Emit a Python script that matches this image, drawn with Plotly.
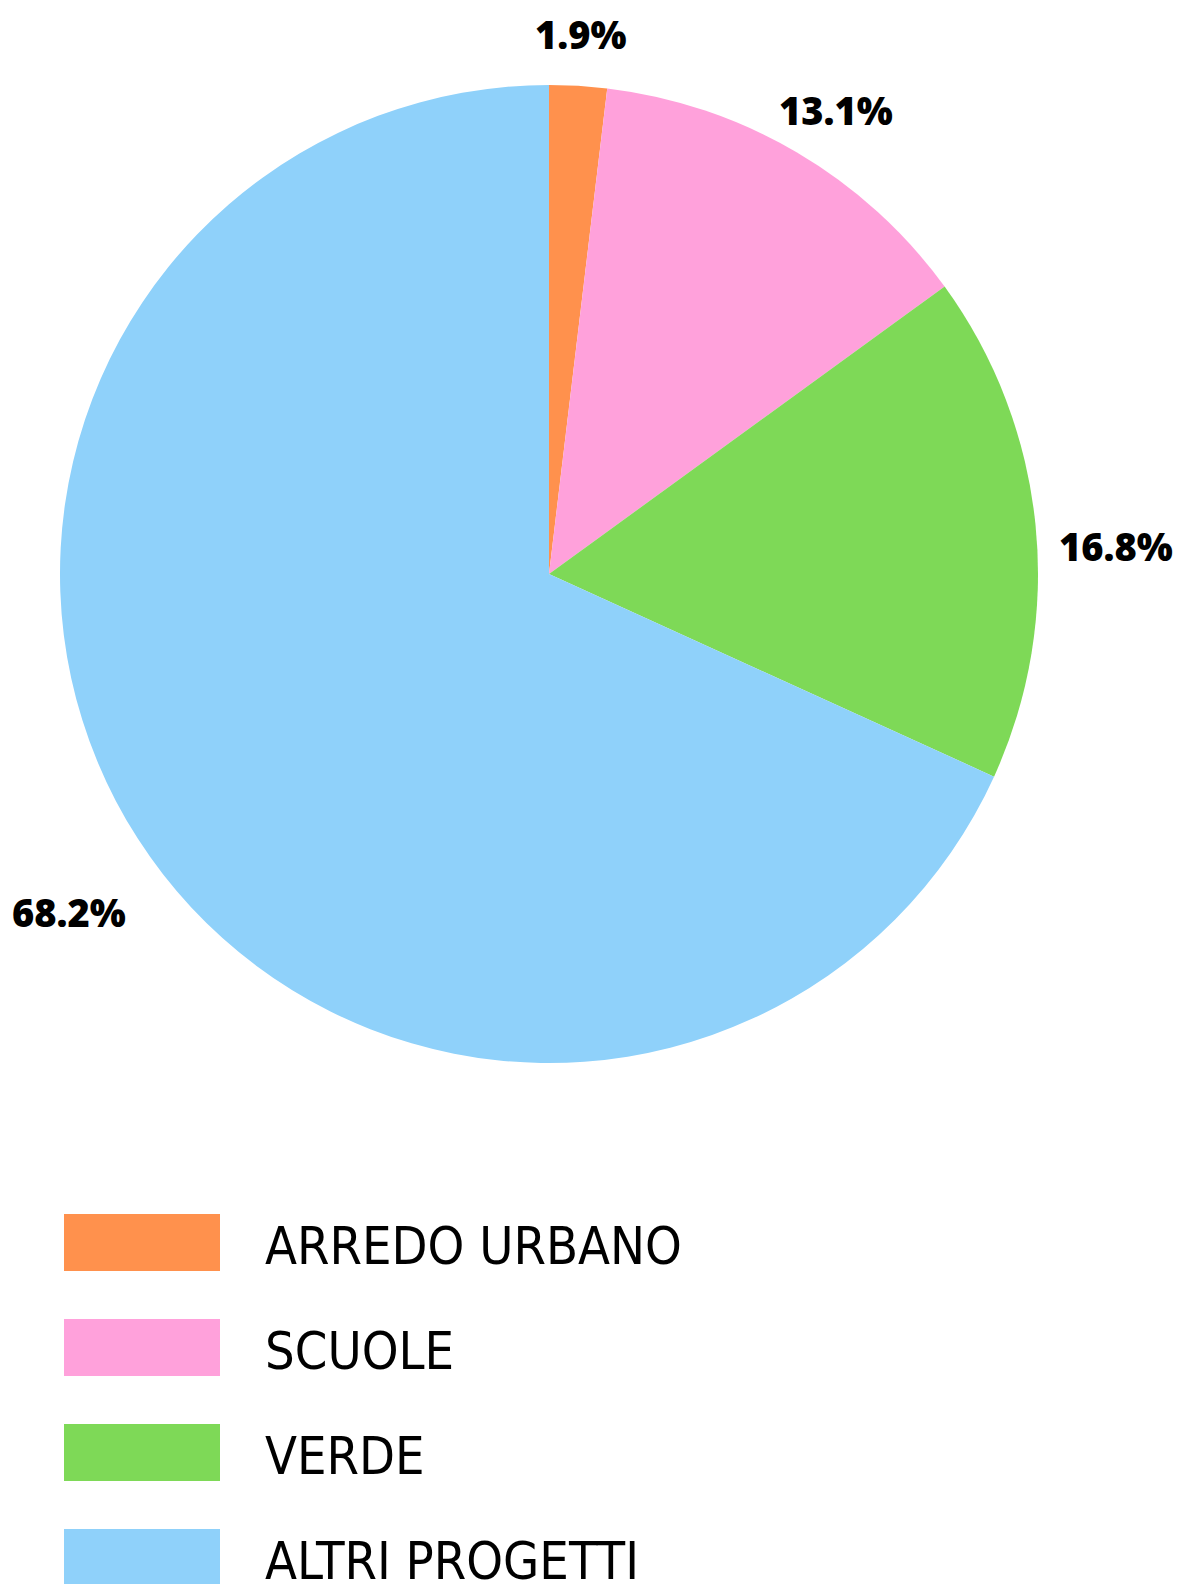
import math
import plotly.graph_objects as go

# ---- data ----
categories = ["ARREDO URBANO", "SCUOLE", "VERDE", "ALTRI PROGETTI"]
values = [1.9, 13.1, 16.8, 68.2]
colors = ["#FF914D", "#FFA1DB", "#7ED957", "#8FD1FA"]

# ---- layout constants (pixels) ----
W, H = 1178, 1584
CX, CY, R = 549, 574, 489          # pie centre and radius
LABEL_R = [1.107, 1.118, 1.16, 1.2]  # radial distance factor for % labels
LABEL_NUDGE = [(0, 0), (10, 7), (3, 29), (13, 20)]
LEG_X0, LEG_X1, LEG_TEXT_X = 64, 220, 263
LEG_TOP0, LEG_STEP, LEG_H = 1214, 105, 57
LEG_FONT = "Liberation Sans Narrow, Arial Narrow, DejaVu Sans Condensed, Roboto Condensed, sans-serif"

fig = go.Figure(go.Pie(
    labels=categories,
    values=values,
    marker=dict(colors=colors, line=dict(width=0)),
    sort=False,
    direction="clockwise",
    rotation=0,
    textinfo="none",
    hoverinfo="label+percent",
    showlegend=False,
    domain=dict(x=[(CX - R) / W, (CX + R) / W],
                y=[1 - (CY + R) / H, 1 - (CY - R) / H]),
))

annotations = []
shapes = []
total = sum(values)
cum = 0.0
for i, v in enumerate(values):
    mid = (cum + v / 2) / total * 2 * math.pi
    cum += v
    d = R * LABEL_R[i]
    px = CX + d * math.sin(mid) + LABEL_NUDGE[i][0]
    py = CY - d * math.cos(mid) + LABEL_NUDGE[i][1]
    annotations.append(dict(
        x=px / W, y=1 - py / H, xref="paper", yref="paper",
        text=f"{v:.1f}%", showarrow=False, xanchor="center", yanchor="middle",
        font=dict(family="Open Sans", size=38, color="black", weight=800),
    ))

for i, (cat, col) in enumerate(zip(categories, colors)):
    top = LEG_TOP0 + i * LEG_STEP
    shapes.append(dict(
        type="rect", xref="paper", yref="paper",
        x0=LEG_X0 / W, x1=LEG_X1 / W,
        y0=1 - (top + LEG_H) / H, y1=1 - top / H,
        fillcolor=col, line=dict(width=0), layer="above",
    ))
    annotations.append(dict(
        x=LEG_TEXT_X / W, y=1 - (top + LEG_H / 2 + 3) / H,
        xref="paper", yref="paper", text=cat, showarrow=False,
        xanchor="left", yanchor="middle",
        font=dict(family=LEG_FONT, size=52, color="black"),
    ))

fig.update_layout(
    width=W, height=H,
    margin=dict(l=0, r=0, t=0, b=0),
    paper_bgcolor="white", plot_bgcolor="white",
    annotations=annotations, shapes=shapes,
)

fig.write_html(
    "out.html",
    config={"displayModeBar": False},
    post_script="document.body.style.margin='0px';document.body.style.overflow='hidden';",
)
